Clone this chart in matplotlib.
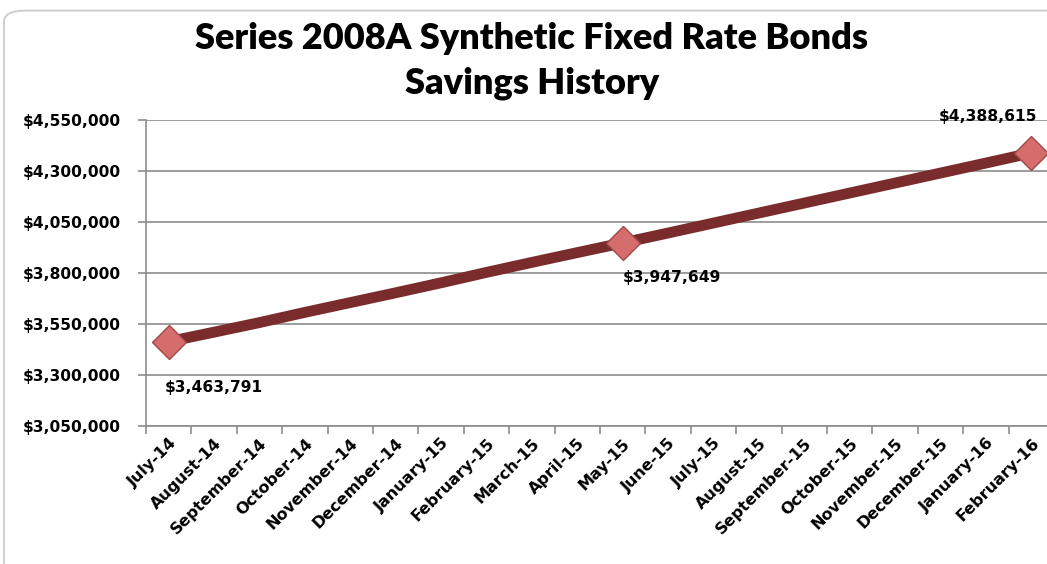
import matplotlib.pyplot as plt
import numpy as np
from matplotlib.patches import FancyBboxPatch
from matplotlib.ticker import FuncFormatter, FixedLocator

# Savings history
months = ['July-14', 'August-14', 'September-14', 'October-14', 'November-14',
          'December-14', 'January-15', 'February-15', 'March-15', 'April-15',
          'May-15', 'June-15', 'July-15', 'August-15', 'September-15',
          'October-15', 'November-15', 'December-15', 'January-16', 'February-16']
savings = [3463791, 3510000, 3557000, 3607000, 3655000,
           3703000, 3752000, 3803000, 3852000, 3900000,
           3947649, 3996000, 4045000, 4094000, 4143000,
           4192000, 4241000, 4290000, 4339000, 4388615]
labeled = [0, 10, 19]
y_ticks = [3050000, 3300000, 3550000, 3800000, 4050000, 4300000, 4550000]

fig = plt.figure(figsize=(10.47, 5.64), dpi=100)

# rounded chart frame
frame = FancyBboxPatch((4 / 1047, -0.05), 1.2, 1.04 - 5 / 564,
                       boxstyle='round,pad=0,rounding_size=0.02',
                       transform=fig.transFigure, facecolor='white',
                       edgecolor='#d0d0d0', linewidth=1.5, zorder=-5)
fig.patches.append(frame)

ax = fig.add_axes([146 / 1047, 138 / 564, 908 / 1047, 306 / 564])
ax.set_facecolor('none')
ax.set_zorder(2)

x = np.arange(len(months))
ax.plot(x, savings, color='#7a2b2b', linewidth=7.8, solid_capstyle='butt',
        zorder=3)
ax.plot(x[labeled], np.array(savings)[labeled], linestyle='none', marker='D',
        markersize=17, markerfacecolor='#d46d6c', markeredgecolor='#a14848',
        markeredgewidth=1, zorder=4)

ax.set_xlim(-0.5, len(months) - 0.5)
ax.set_ylim(3050000, 4550000)

ax.yaxis.set_major_locator(FixedLocator(y_ticks))
ax.yaxis.set_major_formatter(FuncFormatter(lambda v, p: '${:,.0f}'.format(v)))
ax.grid(axis='y', color='#8c8c8c', linewidth=1.2)
ax.set_axisbelow(True)

ax.set_xticks(x)
ax.set_xticklabels(months, rotation=45, ha='right', rotation_mode='anchor',
                   fontsize=11.5, fontweight='bold')
ax.set_xticks(np.arange(-0.5, len(months)), minor=True)
ax.tick_params(axis='x', which='major', length=0, pad=7)
ax.tick_params(axis='x', which='minor', length=6, color='#8c8c8c', width=1.2)
ax.tick_params(axis='y', length=6, color='#8c8c8c', width=1.2,
               labelsize=11.2, pad=12)
for lab in ax.get_yticklabels():
    lab.set_fontweight('bold')

for s in ['top', 'right']:
    ax.spines[s].set_visible(False)
for s in ['left', 'bottom']:
    ax.spines[s].set_color('#8c8c8c')
    ax.spines[s].set_linewidth(1.2)

# data labels
ax.annotate('$3,463,791', (x[0], savings[0]), xytext=(-3, -33),
            textcoords='offset points', ha='left', va='center',
            fontsize=11.2, fontweight='bold')
ax.annotate('$3,947,649', (x[10], savings[10]), xytext=(0, -25),
            textcoords='offset points', ha='left', va='center',
            fontsize=11.2, fontweight='bold')
ax.annotate('$4,388,615', (x[19], savings[19]), xytext=(-31, 26),
            textcoords='offset points', ha='center', va='center',
            fontsize=11.2, fontweight='bold')

fig.text(0.508, 0.932, 'Series 2008A Synthetic Fixed Rate Bonds',
         ha='center', va='center', fontsize=26, fontweight='heavy',
         family='Lato')
fig.text(0.508, 0.852, 'Savings History', ha='center', va='center',
         fontsize=26, fontweight='heavy', family='Lato')

fig.savefig('out.png', dpi=100)
